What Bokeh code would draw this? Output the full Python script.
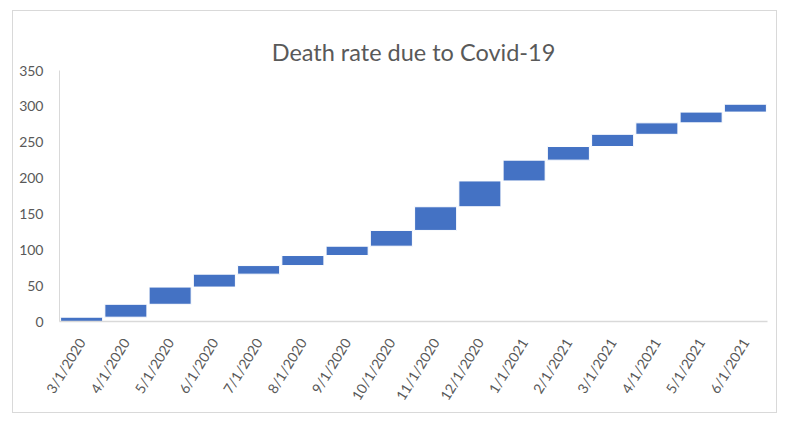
import math
from bokeh.plotting import figure
from bokeh.models import FactorRange, Range1d, ColumnDataSource, FixedTicker
from bokeh.embed import file_html
from bokeh.resources import INLINE

months = ["3/1/2020", "4/1/2020", "5/1/2020", "6/1/2020", "7/1/2020", "8/1/2020",
          "9/1/2020", "10/1/2020", "11/1/2020", "12/1/2020", "1/1/2021", "2/1/2021",
          "3/1/2021", "4/1/2021", "5/1/2021", "6/1/2021"]
deaths = [6, 18, 24, 18, 12, 14, 13, 22, 33, 36, 29, 19, 17, 16, 15, 11]
y_ticks = [0, 50, 100, 150, 200, 250, 300, 350]

tops = []
bottoms = []
run = 0
for d in deaths:
    bottoms.append(run)
    run += d
    tops.append(run)

src = ColumnDataSource(dict(x=months, bottom=bottoms, top=tops))

FONT = "Lato"
GREY = "#595959"

p = figure(x_range=FactorRange(*months, range_padding=0), y_range=Range1d(0, 350),
           width=765, height=403, output_backend="svg", toolbar_location=None,
           title="Death rate due to Covid-19",
           min_border_left=46, min_border_right=11, min_border_top=59, min_border_bottom=93)
p.styles = {"margin-left": "12px", "margin-top": "10px", "border": "1px solid #d9d9d9"}

p.vbar(x="x", bottom="bottom", top="top", width=0.95, source=src,
       fill_color="#4472C4", line_color="#ffffff", line_width=1)

p.title.align = "center"
p.title.text_font = FONT
p.title.text_font_size = "23.5px"
p.title.text_font_style = "normal"
p.title.text_color = GREY

p.outline_line_color = None
p.xgrid.grid_line_color = None
p.ygrid.grid_line_color = None

p.yaxis.ticker = FixedTicker(ticks=y_ticks)
p.yaxis.axis_line_color = "#d9d9d9"
p.yaxis.major_tick_line_color = None
p.yaxis.minor_tick_line_color = None
p.yaxis.major_label_text_font = FONT
p.yaxis.major_label_text_font_size = "14px"
p.yaxis.major_label_text_color = GREY
p.yaxis.major_label_standoff = 10

p.xaxis.axis_line_color = "#d9d9d9"
p.xaxis.axis_line_width = 1.5
p.xaxis.major_tick_line_color = None
p.xaxis.minor_tick_line_color = None
p.xaxis.major_label_text_font = FONT
p.xaxis.major_label_text_font_size = "14px"
p.xaxis.major_label_text_color = GREY
p.xaxis.major_label_orientation = 1.02
p.xaxis.major_label_standoff = 12

p.background_fill_color = "white"
p.border_fill_color = "white"

open("out.html", "w").write(file_html(p, INLINE))
